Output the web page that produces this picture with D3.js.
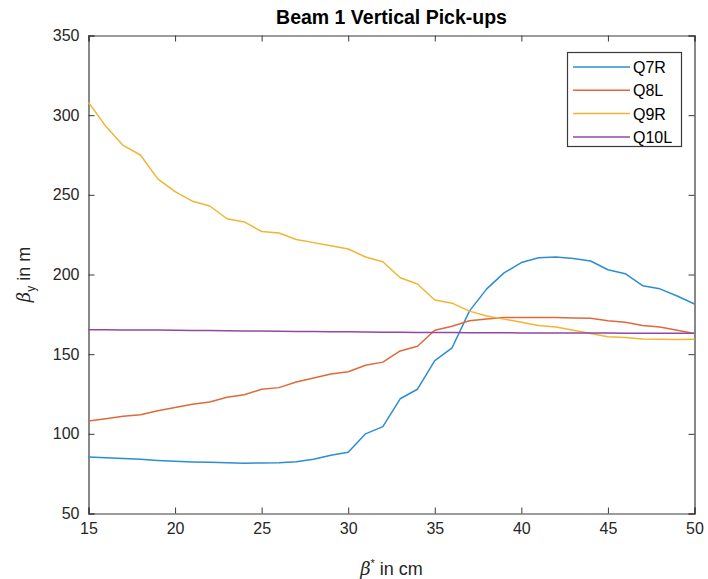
<!DOCTYPE html>
<html><head><meta charset="utf-8">
<script src="https://cdn.jsdelivr.net/npm/d3@7"></script>
<style>body{margin:0;background:#fff}svg{display:block}text{font-family:"Liberation Sans",Arial,sans-serif}</style>
</head><body><svg id="c" width="708" height="579"></svg>
<script>
const betaStar = d3.range(15, 51);
const seriesNames = ["Q7R", "Q8L", "Q9R", "Q10L"];
const q7r = [85.5,85,84.5,84,83.3,82.8,82.4,82.2,81.8,81.6,81.7,81.8,82.5,84,86.5,88.5,100,104.5,122,128,146,154,177,191,201,207.5,210.5,211,210,208.5,203,200.5,193,191,186.5,181.5];
const q8l = [108,109.5,111,112,114.5,116.5,118.5,120,123,124.5,128,129,132.5,135,137.5,139,143,145,152,155,165,167.5,171,172,173,173,173,173,172.7,172.5,171,170,168,167,165,163];
const q9r = [308,293,281,275,260,252,246,243,235,233,227,226,222,220,218,216,211,208,198,194,184,182,177,174,172,170,168,167,165,163,161,160.5,159.5,159.3,159.2,159.3];
const q10l = [165.3,165.25,165.2,165.15,165.1,165,164.9,164.8,164.7,164.6,164.5,164.4,164.3,164.2,164.1,164,163.9,163.8,163.7,163.65,163.6,163.55,163.5,163.45,163.4,163.35,163.3,163.28,163.26,163.24,163.22,163.2,163.18,163.16,163.14,163.12];
const xTicks = [15,20,25,30,35,40,45,50];
const yTicks = [50,100,150,200,250,300,350];
const colors = ["#2b8ed2","#e0693a","#f0b532","#9148a3"];
const allSeries = [q7r, q8l, q9r, q10l];

const L=88.5, R=694.5, T=35.5, B=513.5;
const svg = d3.select("#c");
const x = d3.scaleLinear().domain([15,50]).range([L,R]);
const y = d3.scaleLinear().domain([50,350]).range([B,T]);
const axCol = "#3a3a3a";
const fs = 16;

const gx = svg.append("g").attr("transform",`translate(0,${B})`)
  .call(d3.axisBottom(x).tickValues(xTicks).tickSize(-6).tickPadding(9).tickFormat(d3.format("d")));
const gxt = svg.append("g").attr("transform",`translate(0,${T})`)
  .call(d3.axisTop(x).tickValues(xTicks).tickSize(-6).tickFormat(""));
const gy = svg.append("g").attr("transform",`translate(${L},0)`)
  .call(d3.axisLeft(y).tickValues(yTicks).tickSize(-6).tickPadding(9).tickFormat(d3.format("d")));
const gyr = svg.append("g").attr("transform",`translate(${R},0)`)
  .call(d3.axisRight(y).tickValues(yTicks).tickSize(-6).tickFormat(""));
[gx,gxt,gy,gyr].forEach(g=>{
  g.select(".domain").attr("stroke",axCol).attr("stroke-width",1.2);
  g.selectAll(".tick line").attr("stroke",axCol);
  g.selectAll("text").attr("fill","#262626").style("font-size",fs+"px").style("font-family",'"Liberation Sans",Arial,sans-serif');
});

const line = d3.line().x((d,i)=>x(betaStar[i])).y(d=>y(d));
allSeries.forEach((s,k)=>{
  svg.append("path").datum(s).attr("d",line).attr("fill","none")
    .attr("stroke",colors[k]).attr("stroke-width",1.5).attr("stroke-linejoin","round");
});

svg.append("text").attr("x",(L+R)/2).attr("y",24).attr("text-anchor","middle")
  .style("font-size","19.5px").style("font-weight","bold").attr("fill","#000").text("Beam 1 Vertical Pick-ups");

const xl = svg.append("text").attr("x",(L+R)/2).attr("y",575).attr("text-anchor","middle")
  .style("font-size","18px").attr("fill","#262626");
xl.append("tspan").style("font-family",'"DejaVu Serif","Liberation Serif",serif').style("font-style","italic").text("β");
xl.append("tspan").attr("dy",-8).style("font-size","11px").text("*");
xl.append("tspan").attr("dy",8).text(" in cm");

const yl = svg.append("text").attr("transform",`translate(30,${(T+B)/2}) rotate(-90)`).attr("text-anchor","middle")
  .style("font-size","18px").attr("fill","#262626");
yl.append("tspan").style("font-family",'"DejaVu Serif","Liberation Serif",serif').style("font-style","italic").text("β");
yl.append("tspan").attr("dy",5).style("font-size","12px").text("y");
yl.append("tspan").attr("dy",-5).text(" in m");

const lg = svg.append("g");
lg.append("rect").attr("x",567.5).attr("y",52.5).attr("width",114).attr("height",94)
  .attr("fill","#fff").attr("stroke",axCol).attr("stroke-width",1.2);
seriesNames.forEach((n,k)=>{
  const yy = 67 + k*23.3;
  lg.append("line").attr("x1",573).attr("x2",630).attr("y1",yy).attr("y2",yy)
    .attr("stroke",colors[k]).attr("stroke-width",1.5);
  lg.append("text").attr("x",633).attr("y",yy+6).style("font-size","16px").attr("fill","#000").text(n);
});
</script></body></html>
